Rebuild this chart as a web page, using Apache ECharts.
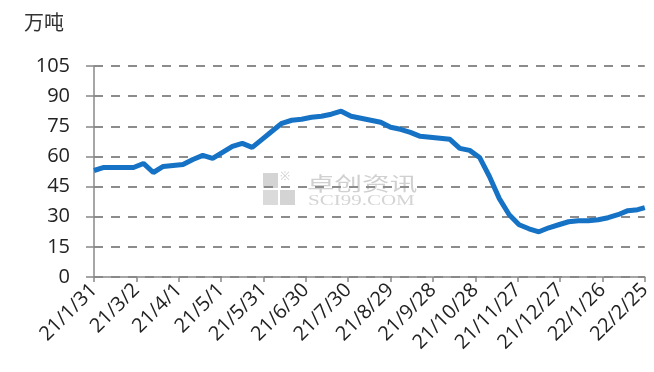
<!DOCTYPE html>
<html>
<head>
<meta charset="utf-8">
<script src="https://cdn.jsdelivr.net/npm/echarts@6/dist/echarts.min.js"></script>
<style>
  html, body { margin: 0; padding: 0; background: #fff; }
  #chart { width: 654px; height: 372px; }
</style>
</head>
<body>
<div id="chart"></div>
<script>
// Tick labels along the date axis, one every 30 days from 21/1/31
const tickLabels = ['21/1/31', '21/3/2', '21/4/1', '21/5/1', '21/5/31', '21/6/30', '21/7/30',
  '21/8/29', '21/9/28', '21/10/28', '21/11/27', '21/12/27', '22/1/26', '22/2/25'];
const tickStepDays = 30;

// Weekly readings: day offset from 21/1/31 and stock (万吨)
const dayOffsets = [0, 7, 14, 21, 28, 35, 42, 49, 56, 63, 70, 77, 84, 91, 98, 105, 112, 119, 126, 133,
  140, 147, 154, 161, 168, 175, 182, 189, 196, 203, 210, 217, 224, 231, 238, 245, 252, 259, 266, 273,
  280, 287, 294, 301, 308, 315, 322, 329, 336, 343, 350, 357, 364, 371, 378, 385, 390];
const stock = [53, 54.5, 54.5, 54.5, 54.5, 56.5, 52, 55, 55.5, 56, 58.5, 60.5, 59, 62, 65, 66.5, 64.5, 68.5, 72.5, 76.5,
  78, 78.5, 79.5, 80, 81, 82.5, 80, 79, 78, 77, 74.5, 73.5, 72, 70, 69.5, 69, 68.5, 64, 63, 59.5,
  50, 39, 31, 26, 24, 22.5, 24.5, 26, 27.5, 28, 28, 28.5, 29.5, 31, 33, 33.5, 34.5];

const unitLabel = '万吨';
const yTicks = { min: 0, max: 105, interval: 15 };

const chart = echarts.init(document.getElementById('chart'));
const fontFamily = '"Open Sans", "Noto Sans CJK SC", sans-serif';

chart.setOption({
  animation: false,
  backgroundColor: '#ffffff',
  grid: { left: 94, right: 2, top: 66, bottom: 95 },
  graphic: [
    { type: 'text', left: 24, top: 14, style: { text: unitLabel, fontSize: 20, fill: '#333', fontFamily } },
    // faint watermark
    { type: 'group', left: 263, top: 171, silent: true, children: [
      { type: 'text', x: 17, y: 0, style: { text: '※', fontSize: 12, fill: '#cfcfcf' } },
      { type: 'rect', shape: { x: 0, y: 2, width: 15, height: 15 }, style: { fill: '#d4d4d4' } },
      { type: 'rect', shape: { x: 0, y: 19, width: 15, height: 15 }, style: { fill: '#dadada' } },
      { type: 'rect', shape: { x: 17, y: 19, width: 15, height: 15 }, style: { fill: '#d4d4d4' } },
      { type: 'text', x: 44, y: 3, scaleX: 1.45, style: { text: '卓创资讯', fontSize: 19, fill: '#d0d0d0', fontFamily: '"Noto Sans CJK SC", sans-serif' } },
      { type: 'text', x: 45, y: 23, scaleX: 1.5, style: { text: 'SCI99.COM', fontSize: 14, fill: '#d4d4d4', fontFamily: '"Liberation Serif", serif' } }
    ]}
  ],
  xAxis: {
    type: 'value',
    min: 0,
    max: (tickLabels.length - 1) * tickStepDays,
    interval: tickStepDays,
    axisLine: { show: true, lineStyle: { color: '#888', width: 1.5 } },
    axisTick: { show: true, length: 5, lineStyle: { color: '#888', width: 1.5 } },
    splitLine: { show: false },
    axisLabel: {
      rotate: 45,
      margin: 10,
      fontSize: 20,
      color: '#222',
      fontFamily,
      showMinLabel: true,
      showMaxLabel: true,
      formatter: v => tickLabels[Math.round(v / tickStepDays)] || ''
    }
  },
  yAxis: {
    type: 'value',
    min: yTicks.min,
    max: yTicks.max,
    interval: yTicks.interval,
    axisLine: { show: true, lineStyle: { color: '#888', width: 1.5 } },
    axisTick: { show: true, length: 8, lineStyle: { color: '#888', width: 1.5 } },
    axisLabel: { fontSize: 20, color: '#222', margin: 24, fontFamily },
    splitLine: { show: true, lineStyle: { color: '#8c8c8c', width: 2, type: [9, 8] } }
  },
  series: [{
    type: 'line',
    data: dayOffsets.map((d, i) => [d, stock[i]]),
    showSymbol: false,
    lineStyle: { color: '#1672c4', width: 5 },
    itemStyle: { color: '#1672c4' }
  }]
});
</script>
</body>
</html>
